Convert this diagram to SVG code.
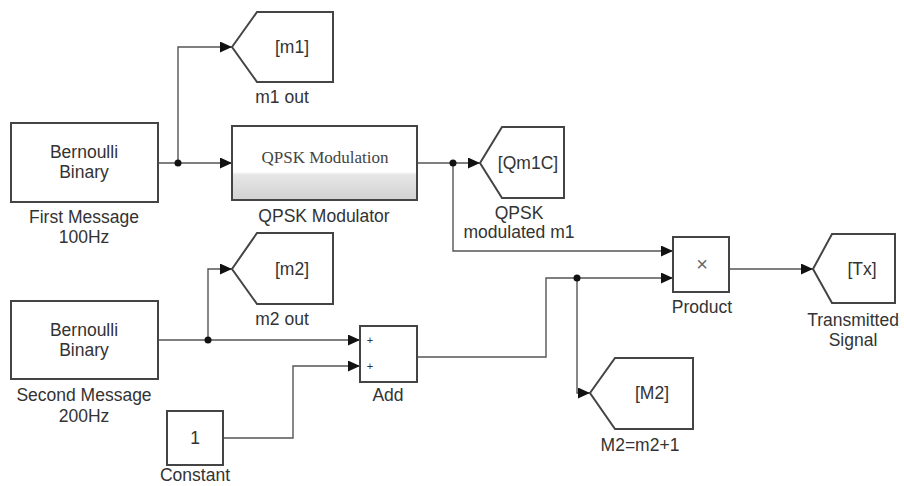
<svg xmlns="http://www.w3.org/2000/svg" width="904" height="486" viewBox="0 0 904 486">
<style>
.blk{fill:#fff;stroke:#444;stroke-width:2}
.w{fill:none;stroke:#555;stroke-width:1.4}
.t{font-family:"Liberation Sans",Arial,sans-serif;font-size:17.5px;fill:#333;text-anchor:middle}
.s{font-family:"Liberation Serif","Times New Roman",serif;font-size:17px;fill:#444;text-anchor:middle}
.dot{fill:#111}
</style>
<defs>
<marker id="ar" markerWidth="13" markerHeight="11" refX="12" refY="5.5" orient="auto" markerUnits="userSpaceOnUse">
<path d="M0,0 L12,5.5 L0,11 Z" fill="#111"/>
</marker>
<linearGradient id="qg" x1="0" y1="0" x2="0" y2="1">
<stop offset="0" stop-color="#fff"/>
<stop offset="0.62" stop-color="#fff"/>
<stop offset="0.66" stop-color="#e6e6e6"/>
<stop offset="1" stop-color="#d2d2d2"/>
</linearGradient>
</defs>
<rect width="904" height="486" fill="#fff"/>

<g id="connectors">
<path class="w" d="M158,163 H178 V47 H232" marker-end="url(#ar)"/>
<path class="w" d="M178,163 H232" marker-end="url(#ar)"/>
<path class="w" d="M417,163 H453 H480" marker-end="url(#ar)"/>
<path class="w" d="M453,163 V251 H673" marker-end="url(#ar)"/>
<path class="w" d="M158,340 H208 V269 H232" marker-end="url(#ar)"/>
<path class="w" d="M208,340 H360" marker-end="url(#ar)"/>
<path class="w" d="M223,438 H293 V366 H360" marker-end="url(#ar)"/>
<path class="w" d="M417,357 H546 V278 H673" marker-end="url(#ar)"/>
<path class="w" d="M577,278 V393 H590" marker-end="url(#ar)"/>
<path class="w" d="M729,269 H813" marker-end="url(#ar)"/>
<circle class="dot" cx="178" cy="163" r="3.5"/>
<circle class="dot" cx="453" cy="163" r="3.5"/>
<circle class="dot" cx="208" cy="340" r="3.5"/>
<circle class="dot" cx="577" cy="278" r="3.5"/>
</g>

<g id="bernoulli1">
<rect class="blk" x="11" y="123" width="147" height="79"/>
<text class="t" x="84" y="158">Bernoulli</text>
<text class="t" x="84" y="178">Binary</text>
<text class="t" x="84" y="223">First Message</text>
<text class="t" x="84" y="243">100Hz</text>
</g>

<g id="m1out">
<path class="blk" d="M232,47 L257,12 H333 V82 H257 Z"/>
<text class="t" x="292" y="53">[m1]</text>
<text class="t" x="282" y="103">m1 out</text>
</g>

<g id="qpsk">
<rect x="232" y="126" width="185" height="74" fill="url(#qg)" stroke="#444" stroke-width="2"/>
<text class="s" x="325" y="163">QPSK Modulation</text>
<text class="t" x="324" y="222">QPSK Modulator</text>
</g>

<g id="qm1c">
<path class="blk" d="M480,163 L502,127 H564 V198 H502 Z"/>
<text class="t" x="528" y="169">[Qm1C]</text>
<text class="t" x="519" y="219">QPSK</text>
<text class="t" x="519" y="238">modulated m1</text>
</g>

<g id="bernoulli2">
<rect class="blk" x="11" y="301" width="147" height="78"/>
<text class="t" x="84" y="336">Bernoulli</text>
<text class="t" x="84" y="356">Binary</text>
<text class="t" x="84" y="401">Second Message</text>
<text class="t" x="84" y="422">200Hz</text>
</g>

<g id="m2out">
<path class="blk" d="M232,269 L257,233 H333 V304 H257 Z"/>
<text class="t" x="292" y="275">[m2]</text>
<text class="t" x="282" y="325">m2 out</text>
</g>

<g id="constant">
<rect class="blk" x="167" y="411" width="56" height="54"/>
<text class="t" x="195" y="444">1</text>
<text class="t" x="195" y="481">Constant</text>
</g>

<g id="add">
<rect class="blk" x="360" y="326" width="57" height="56"/>
<text class="t" x="370" y="344" style="font-size:11px">+</text>
<text class="t" x="370" y="370" style="font-size:11px">+</text>
<text class="t" x="388" y="401">Add</text>
</g>

<g id="product">
<rect class="blk" x="673" y="237" width="56" height="55"/>
<text class="t" x="702" y="271" style="font-size:20px;fill:#666">×</text>
<text class="t" x="702" y="313">Product</text>
</g>

<g id="m2goto">
<path class="blk" d="M590,393 L615,358 H693 V429 H615 Z"/>
<text class="t" x="652" y="399">[M2]</text>
<text class="t" x="640" y="451">M2=m2+1</text>
</g>

<g id="tx">
<path class="blk" d="M813,269 L832,234 H895 V303 H832 Z"/>
<text class="t" x="862" y="275">[Tx]</text>
<text class="t" x="853" y="326">Transmitted</text>
<text class="t" x="853" y="346">Signal</text>
</g>
</svg>
